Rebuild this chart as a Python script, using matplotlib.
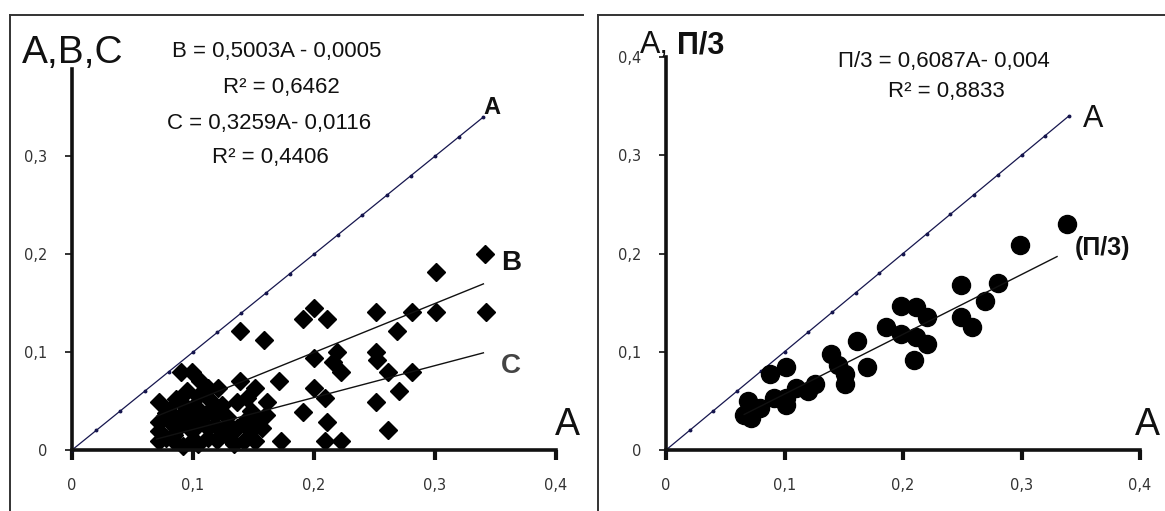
import matplotlib
matplotlib.use("Agg")
import matplotlib.pyplot as plt
from matplotlib.lines import Line2D

# ---------------- data ----------------
tick_values = [0.0, 0.1, 0.2, 0.3, 0.4]
tick_labels = ["0", "0,1", "0,2", "0,3", "0,4"]

# reference line A = A (values of A along the line)
A_ref = [0.00, 0.02, 0.04, 0.06, 0.08, 0.10, 0.12, 0.14, 0.16, 0.18,
         0.20, 0.22, 0.24, 0.26, 0.28, 0.30, 0.32, 0.34]

# left panel: B and C versus A
B_A = [0.341, 0.301, 0.251, 0.281, 0.301, 0.342, 0.269, 0.191, 0.200, 0.211,
       0.139, 0.159, 0.251, 0.219, 0.216, 0.200, 0.171, 0.151, 0.139, 0.121,
       0.099, 0.090, 0.106, 0.112, 0.072, 0.090, 0.099, 0.124, 0.072, 0.081,
       0.093, 0.095, 0.104, 0.080, 0.115]
B_v = [0.200, 0.182, 0.141, 0.141, 0.141, 0.141, 0.121, 0.134, 0.145, 0.134,
       0.121, 0.112, 0.100, 0.100, 0.090, 0.094, 0.070, 0.063, 0.070, 0.063,
       0.080, 0.080, 0.070, 0.063, 0.049, 0.049, 0.043, 0.046, 0.029, 0.029,
       0.032, 0.060, 0.055, 0.040, 0.050]
C_A = [0.252, 0.222, 0.261, 0.281, 0.270, 0.251, 0.200, 0.209, 0.191, 0.211,
       0.261, 0.209, 0.222, 0.173, 0.136, 0.145, 0.161, 0.106, 0.118, 0.130,
       0.142, 0.151, 0.072, 0.084, 0.099, 0.112, 0.124, 0.136, 0.148, 0.072,
       0.084, 0.099, 0.112, 0.142, 0.151, 0.112, 0.078, 0.088, 0.106, 0.120,
       0.130, 0.157, 0.160, 0.092, 0.128, 0.078, 0.090, 0.104, 0.118, 0.134,
       0.148, 0.100, 0.086]
C_v = [0.092, 0.080, 0.080, 0.080, 0.060, 0.049, 0.063, 0.053, 0.039, 0.029,
       0.020, 0.009, 0.009, 0.009, 0.049, 0.053, 0.049, 0.029, 0.026, 0.026,
       0.029, 0.032, 0.019, 0.015, 0.019, 0.022, 0.019, 0.022, 0.019, 0.009,
       0.009, 0.009, 0.012, 0.009, 0.009, 0.039, 0.038, 0.022, 0.040, 0.010,
       0.012, 0.022, 0.036, 0.004, 0.034, 0.012, 0.036, 0.006, 0.036, 0.006,
       0.040, 0.030, 0.052]

# right panel: П/3 versus A
P_A = [0.338, 0.299, 0.280, 0.249, 0.269, 0.249, 0.258, 0.198, 0.211, 0.220,
       0.186, 0.198, 0.211, 0.220, 0.209, 0.161, 0.170, 0.139, 0.145, 0.151,
       0.151, 0.126, 0.120, 0.110, 0.101, 0.101, 0.091, 0.101, 0.088, 0.079,
       0.072, 0.069, 0.072, 0.066]
P_v = [0.230, 0.209, 0.170, 0.168, 0.152, 0.135, 0.125, 0.147, 0.146, 0.135,
       0.125, 0.118, 0.115, 0.108, 0.092, 0.111, 0.084, 0.098, 0.087, 0.077,
       0.067, 0.067, 0.060, 0.063, 0.053, 0.046, 0.053, 0.084, 0.077, 0.043,
       0.039, 0.050, 0.033, 0.036]

# regression coefficients (slope, intercept) shown on the chart
B_fit = (0.5003, -0.0005)
C_fit = (0.3259, -0.0116)
P_fit = (0.6087, -0.004)
fit_range_left = [0.07, 0.34]
fit_range_right = [0.066, 0.33]

# ---------------- figure ----------------
W, H = 1165, 511
fig = plt.figure(figsize=(W / 100, H / 100), dpi=100)
fig.patch.set_facecolor("white")


def fx(px):
    return px / W


def fy(py):
    return 1 - py / H


SANS = ["Liberation Sans", "DejaVu Sans"]
ink = "#111111"
line_col = "#16164e"


def style_axes(ax, ylim, yticks, ylabels):
    ax.set_xlim(0, 0.4)
    ax.set_ylim(*ylim)
    for s in ["top", "right"]:
        ax.spines[s].set_visible(False)
    for s in ["left", "bottom"]:
        ax.spines[s].set_linewidth(2.6)
        ax.spines[s].set_color(ink)
    ax.set_xticks(tick_values)
    ax.set_xticklabels(tick_labels)
    ax.set_yticks(yticks)
    ax.set_yticklabels(ylabels)
    ax.tick_params(axis="x", direction="out", length=7, width=3, pad=13,
                   labelsize=10.5, labelcolor="#333333", color=ink)
    ax.tick_params(axis="y", direction="out", length=5, width=1.2, pad=13,
                   labelsize=10.5, labelcolor="#333333", color=ink)
    ax.patch.set_alpha(0)


# left axes
ax1 = fig.add_axes([fx(72), fy(450), (556 - 72) / W, (450 - 69) / H])
style_axes(ax1, (0, 0.389), tick_values[:4], tick_labels[:4])
ax1.plot(A_ref, A_ref, color=line_col, lw=0.9, marker="o", ms=1.8,
         clip_on=False)
for fit in (B_fit, C_fit):
    xs = fit_range_left
    ax1.plot(xs, [fit[0] * x + fit[1] for x in xs], color=ink, lw=1.0,
             zorder=3)
ax1.plot(B_A, B_v, ls="none", marker="D", ms=9.2, color="black",
         mec="black", clip_on=False, zorder=2)
ax1.plot(C_A, C_v, ls="none", marker="D", ms=9.2, color="black",
         mec="black", clip_on=False, zorder=2)

# right axes
ax2 = fig.add_axes([fx(666), fy(450), (1140 - 666) / W, (450 - 57) / H])
style_axes(ax2, (0, 0.4), tick_values, tick_labels)
ax2.plot(A_ref, A_ref, color=line_col, lw=0.9, marker="o", ms=1.8,
         clip_on=False)
xs = fit_range_right
ax2.plot(xs, [P_fit[0] * x + P_fit[1] for x in xs], color=ink, lw=1.0,
         zorder=3)
ax2.plot(P_A, P_v, ls="none", marker="o", ms=13, color="black",
         clip_on=False, zorder=2)

# ---------------- frames ----------------
frame_kw = dict(transform=fig.transFigure, color="#333333", lw=1.4)
fig.add_artist(Line2D([fx(10), fx(10)], [fy(15), fy(511)], **frame_kw))
fig.add_artist(Line2D([fx(10), fx(583)], [fy(15), fy(15)], **frame_kw))
fig.add_artist(Line2D([fx(598), fx(598)], [fy(15), fy(511)], **frame_kw))
fig.add_artist(Line2D([fx(598), fx(1165)], [fy(15), fy(15)], **frame_kw))

# ---------------- texts ----------------
def t(px, py, s, size, ha="center", va="center", weight="normal",
      color=ink):
    fig.text(fx(px), fy(py), s, fontsize=size, ha=ha, va=va,
             family=SANS, fontweight=weight, color=color)


# left panel
t(22, 63, "A,B,C", 28, ha="left", va="baseline")
t(277, 52, "B = 0,5003A - 0,0005", 16)
t(281, 88, "R² = 0,6462", 16)
t(269, 123, "C = 0,3259A- 0,0116", 16)
t(270, 157, "R² = 0,4406", 16)
t(492, 107, "A", 17, weight="bold")
t(511, 263, "B", 20, weight="bold")
t(511, 366, "C", 20, weight="bold", color="#444444")
t(567, 425, "A", 27)

# right panel
t(640, 53, "A,", 22, ha="left", va="baseline")
t(677, 53, "П/3", 22, ha="left", va="baseline", weight="bold")
t(944, 62, "П/3 = 0,6087A- 0,004", 16)
t(946, 92, "R² = 0,8833", 16)
t(1093, 119, "A", 22)
t(1102, 248, "(П/3)", 18, weight="bold")
t(1147, 425, "A", 27)

fig.savefig("out.png", dpi=100, facecolor="white")
